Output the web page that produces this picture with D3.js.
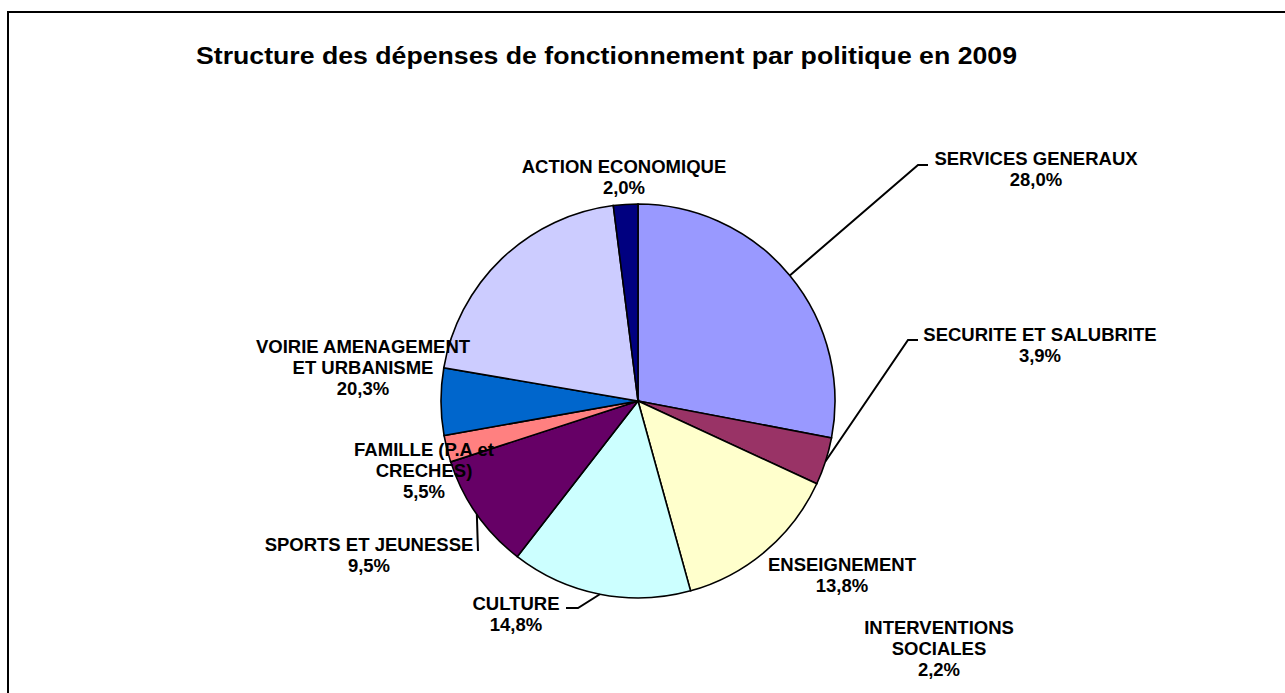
<!DOCTYPE html>
<html>
<head>
<meta charset="utf-8">
<script src="https://cdn.jsdelivr.net/npm/d3@7"></script>
<style>
  html, body { margin: 0; padding: 0; background: #fff; }
  svg text { font-family: Arial, "Liberation Sans", sans-serif; font-weight: bold; fill: #000; }
</style>
</head>
<body>
<div class="canvas"></div>
<script>
// data, clockwise from 12 o'clock
const categories = [
  "SERVICES GENERAUX", "SECURITE ET SALUBRITE", "ENSEIGNEMENT", "CULTURE",
  "SPORTS ET JEUNESSE", "INTERVENTIONS SOCIALES", "FAMILLE (P.A et CRECHES)",
  "VOIRIE AMENAGEMENT ET URBANISME", "ACTION ECONOMIQUE"
];
const values = [28.0, 3.9, 13.8, 14.8, 9.5, 2.2, 5.5, 20.3, 2.0];
const colors = ["#9999FF", "#993366", "#FFFFCC", "#CCFFFF", "#660066",
                "#FF8080", "#0066CC", "#CCCCFF", "#000080"];
// label text lines (as wrapped in the original)
const labelLines = [
  ["SERVICES GENERAUX"], ["SECURITE ET SALUBRITE"], ["ENSEIGNEMENT"], ["CULTURE"],
  ["SPORTS ET JEUNESSE"], ["INTERVENTIONS", "SOCIALES"], ["FAMILLE (P.A et", "CRECHES)"],
  ["VOIRIE AMENAGEMENT", "ET URBANISME"], ["ACTION ECONOMIQUE"]
];
const title = "Structure des dépenses de fonctionnement par politique en 2009";

// layout: label centre / first baseline, and leader-line elbows
const labelPos = [
  [1036, 165], [1040, 341], [842, 571], [516, 610],
  [369, 551], [939, 634], [424, 456], [363, 353], [624, 173]
];
const leaderElbow = [
  [[918, 165], [928, 165]],
  [[908, 340], [918, 340]],
  null,
  [[578, 608], [566, 608]],
  [[478, 551]],
  null, null, null, null
];

const width = 1285, height = 693;
const cx = 638, cy = 401, r = 197;

const svg = d3.select(".canvas").append("svg")
  .attr("width", width)
  .attr("height", height);

// chart frame (runs past right/bottom edges)
svg.append("rect")
  .attr("x", 8).attr("y", 12)
  .attr("width", width + 20).attr("height", height + 20)
  .attr("fill", "#fff")
  .attr("stroke", "#000")
  .attr("stroke-width", 2);

svg.append("text")
  .attr("x", 196).attr("y", 64)
  .attr("font-size", 23)
  .attr("textLength", 821)
  .attr("lengthAdjust", "spacingAndGlyphs")
  .text(title);

const pie = d3.pie().sort(null).value(d => d)(values);
const arc = d3.arc().innerRadius(0).outerRadius(r);

const g = svg.append("g").attr("transform", `translate(${cx},${cy})`);

g.selectAll("path.slice")
  .data(pie)
  .join("path")
  .attr("class", "slice")
  .attr("d", arc)
  .attr("fill", (d, i) => colors[i])
  .attr("stroke", "#000")
  .attr("stroke-width", 1.6);

// leader lines start on the arc at each slice's mid angle
pie.forEach((d, i) => {
  if (!leaderElbow[i]) return;
  const a = (d.startAngle + d.endAngle) / 2;
  const pts = [[cx + r * Math.sin(a), cy - r * Math.cos(a)], ...leaderElbow[i]];
  svg.append("path")
    .attr("d", d3.line()(pts))
    .attr("fill", "none")
    .attr("stroke", "#000")
    .attr("stroke-width", 2);
});

// labels
categories.forEach((c, i) => {
  const lines = labelLines[i].concat([d3.format(".1f")(values[i]).replace(".", ",") + "%"]);
  const t = svg.append("text")
    .attr("x", labelPos[i][0])
    .attr("y", labelPos[i][1])
    .attr("text-anchor", "middle")
    .attr("font-size", 18.5);
  lines.forEach((l, j) => {
    t.append("tspan")
      .attr("x", labelPos[i][0])
      .attr("dy", j === 0 ? 0 : 21)
      .text(l);
  });
});
</script>
</body>
</html>
